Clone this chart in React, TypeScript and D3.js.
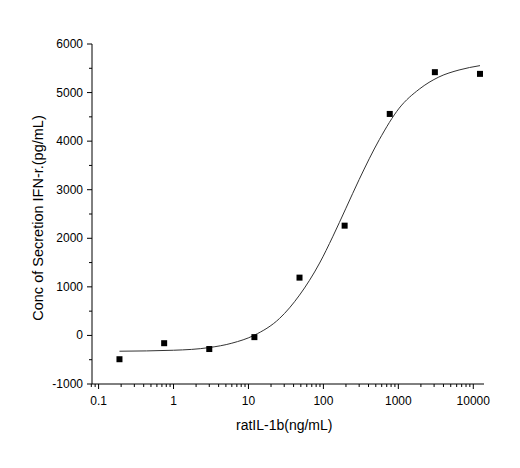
import { FC, useMemo } from "react";
import * as d3 from "d3";

const WIDTH = 520;
const HEIGHT = 468;
const MARGIN = { top: 44, right: 36, bottom: 84, left: 92 };

// measured points: concentration (ng/mL) vs secretion (pg/mL)
const doses = [0.19, 0.75, 3, 12, 48, 192, 768, 3072, 12288];
const secretion = [-490, -160, -280, -35, 1190, 2260, 4560, 5420, 5385];

// fitted curve
const curveX = [0.19, 1, 3, 6, 12, 26, 48, 89, 133, 200, 300, 557, 1028, 1900, 3470, 6460, 12288];
const curveY = [-325, -305, -250, -160, 5, 350, 830, 1490, 2030, 2620, 3210, 4030, 4680, 5070, 5320, 5465, 5555];

const yTicks = [-1000, 0, 1000, 2000, 3000, 4000, 5000, 6000];
const xTickLabels = ["0.1", "1", "10", "100", "1000", "10000"];

const FONT = "Arial, 'Liberation Sans', sans-serif";

const Chart: FC = () => {
  const boundsWidth = WIDTH - MARGIN.left - MARGIN.right;
  const boundsHeight = HEIGHT - MARGIN.top - MARGIN.bottom;

  const xScale = useMemo(
    () => d3.scaleLog().domain([0.0817, 13900]).range([0, boundsWidth]),
    [boundsWidth]
  );
  const yScale = useMemo(
    () => d3.scaleLinear().domain([-1000, 6000]).range([boundsHeight, 0]),
    [boundsHeight]
  );

  const line = d3
    .line<number>()
    .x((d) => xScale(d))
    .y((_, i) => yScale(curveY[i]))
    .curve(d3.curveMonotoneX);

  // minor ticks on log axis: 2..9 in each decade, plus 0.08/0.09
  const minorX: number[] = [0.08 * 1.0001, 0.09];
  for (let e = -1; e <= 4; e++) {
    for (let m = 2; m <= 9; m++) {
      const v = m * Math.pow(10, e);
      if (v <= 13900) minorX.push(v);
    }
  }
  const minorY = d3.range(-500, 6000, 1000);

  return (
    <svg width={WIDTH} height={HEIGHT} style={{ position: "absolute", left: 0, top: 0 }}>
      <rect width={WIDTH} height={HEIGHT} fill="#ffffff" />
      <g transform={`translate(${MARGIN.left},${MARGIN.top})`} fontFamily={FONT}>
        {/* axes lines */}
        <line x1={0} x2={boundsWidth} y1={boundsHeight} y2={boundsHeight} stroke="#000" />
        <line x1={0} x2={0} y1={0} y2={boundsHeight} stroke="#000" />

        {/* y ticks */}
        {yTicks.map((t) => (
          <g key={t}>
            <line x1={-5} x2={0} y1={yScale(t)} y2={yScale(t)} stroke="#000" />
            <text
              x={-9}
              y={yScale(t)}
              textAnchor="end"
              dominantBaseline="central"
              fontSize={12}
              fill="#000"
            >
              {t}
            </text>
          </g>
        ))}
        {minorY.map((t) => (
          <line key={t} x1={-3} x2={0} y1={yScale(t)} y2={yScale(t)} stroke="#000" />
        ))}

        {/* x ticks */}
        {xTickLabels.map((t) => (
          <g key={t}>
            <line
              x1={xScale(+t)}
              x2={xScale(+t)}
              y1={boundsHeight}
              y2={boundsHeight + 5}
              stroke="#000"
            />
            <text
              x={xScale(+t)}
              y={boundsHeight + 21}
              textAnchor="middle"
              fontSize={12}
              fill="#000"
            >
              {t}
            </text>
          </g>
        ))}
        {minorX.map((t, i) => (
          <line
            key={i}
            x1={xScale(t)}
            x2={xScale(t)}
            y1={boundsHeight}
            y2={boundsHeight + 3}
            stroke="#000"
          />
        ))}

        {/* fitted curve */}
        <path d={line(curveX) || ""} fill="none" stroke="#333" strokeWidth={1} />

        {/* data points */}
        {doses.map((d, i) => (
          <rect
            key={i}
            x={xScale(d) - 3}
            y={yScale(secretion[i]) - 3}
            width={6}
            height={6}
            fill="#000"
          />
        ))}

        {/* axis titles */}
        <text
          x={xScale(30)}
          y={boundsHeight + 46}
          textAnchor="middle"
          fontSize={14}
          fill="#000"
        >
          ratIL-1b(ng/mL)
        </text>
        <text
          transform={`translate(${-49},${boundsHeight / 2 + 4}) rotate(-90)`}
          textAnchor="middle"
          fontSize={14.5}
          fill="#000"
        >
          Conc of Secretion IFN-r.(pg/mL)
        </text>
      </g>
    </svg>
  );
};

export default function App() {
  return <Chart />;
}
